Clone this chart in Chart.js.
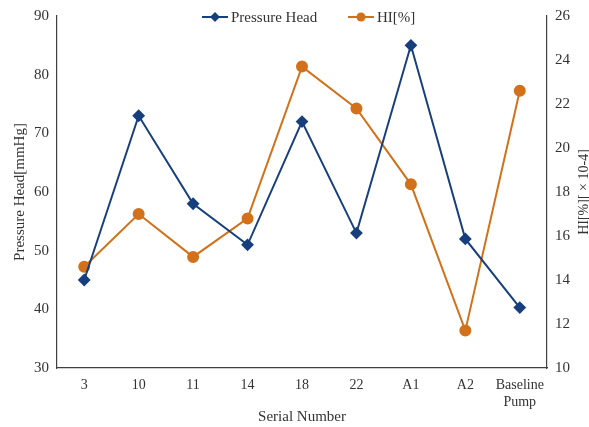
<!DOCTYPE html>
<html>
<head>
<meta charset="utf-8">
<script src="https://cdn.jsdelivr.net/npm/chart.js@4.4.0/dist/chart.umd.min.js"></script>
<style>
  html, body { margin: 0; padding: 0; background: #fff; }
  #wrap { width: 589px; height: 427px; }
</style>
</head>
<body>
<div id="wrap"><canvas id="chart" width="589" height="427"></canvas></div>
<script>
// data
const serials = ["3", "10", "11", "14", "18", "22", "A1", "A2", ["Baseline", "Pump"]];
const pressureHead = [45, 73, 58, 51, 72, 53, 85, 52, 40.3];
const hiValues = [14.6, 17.0, 15.05, 16.8, 23.7, 21.8, 18.35, 11.7, 22.6];

const navy = "#173f7e";
const orange = "#d2711a";
const serif = "'Liberation Serif', 'Times New Roman', serif";
const axisColor = "#404040";
const textColor = "#333";

// legend + rotated right title drawn by hand
const extras = {
  id: "extras",
  afterDraw(c) {
    const ctx = c.ctx;
    ctx.save();
    const items = [
      { x: 202, ds: c.data.datasets[0] },
      { x: 348, ds: c.data.datasets[1] }
    ];
    const y = 17;
    items.forEach(it => {
      ctx.strokeStyle = it.ds.borderColor;
      ctx.lineWidth = 2;
      ctx.beginPath();
      ctx.moveTo(it.x, y);
      ctx.lineTo(it.x + 26, y);
      ctx.stroke();
      ctx.fillStyle = it.ds.borderColor;
      ctx.beginPath();
      if (it.ds.pointStyle === "rectRot") {
        ctx.moveTo(it.x + 13, y - 5);
        ctx.lineTo(it.x + 18, y);
        ctx.lineTo(it.x + 13, y + 5);
        ctx.lineTo(it.x + 8, y);
      } else {
        ctx.arc(it.x + 13, y, 4.5, 0, Math.PI * 2);
      }
      ctx.fill();
      ctx.fillStyle = textColor;
      ctx.font = "15px " + serif;
      ctx.textBaseline = "middle";
      ctx.textAlign = "left";
      ctx.fillText(it.ds.label, it.x + 29, y + 1);
    });

    // right axis title
    ctx.translate(584, 192);
    ctx.rotate(-Math.PI / 2);
    ctx.font = "14px " + serif;
    ctx.textAlign = "center";
    ctx.textBaseline = "middle";
    ctx.fillStyle = textColor;
    ctx.fillText("HI[%][ × 10-4]", 0, 0);
    ctx.restore();
  }
};

new Chart(document.getElementById("chart"), {
  type: "line",
  data: {
    labels: serials,
    datasets: [
      {
        label: "Pressure Head",
        data: pressureHead,
        yAxisID: "y",
        borderColor: navy,
        backgroundColor: navy,
        borderWidth: 2,
        pointStyle: "rectRot",
        pointRadius: 5,
        pointHoverRadius: 5,
        tension: 0
      },
      {
        label: "HI[%]",
        data: hiValues,
        yAxisID: "y1",
        borderColor: orange,
        backgroundColor: orange,
        borderWidth: 2,
        pointStyle: "circle",
        pointRadius: 5,
        pointHoverRadius: 5,
        tension: 0
      }
    ]
  },
  options: {
    responsive: false,
    animation: false,
    layout: { padding: { top: 16, left: 0, right: 0, bottom: 0 } },
    plugins: {
      legend: { display: false },
      tooltip: { enabled: false }
    },
    scales: {
      x: {
        offset: true,
        grid: { display: false, drawTicks: true, tickLength: 5, color: axisColor },
        border: { display: true, color: axisColor, width: 1.2 },
        ticks: { color: textColor, font: { family: serif, size: 14 }, padding: 4, maxRotation: 0, autoSkip: false },
        title: { display: true, text: "Serial Number", color: textColor, font: { family: serif, size: 15 }, padding: { top: 0, bottom: 1 } },
        afterFit(s) { s.height = 59; }
      },
      y: {
        position: "left",
        min: 30,
        max: 90,
        grid: { display: false, drawOnChartArea: false, drawTicks: true, tickLength: 5, color: axisColor },
        border: { display: true, color: axisColor, width: 1.2 },
        ticks: { stepSize: 10, color: textColor, font: { family: serif, size: 15 }, padding: 3 },
        title: { display: true, text: "Pressure Head[mmHg]", color: textColor, font: { family: serif, size: 15 }, padding: { top: 11, bottom: 0 } },
        afterFit(s) { s.width = 57; }
      },
      y1: {
        position: "right",
        min: 10,
        max: 26,
        grid: { display: false, drawOnChartArea: false, drawTicks: true, tickLength: 5, color: axisColor },
        border: { display: true, color: axisColor, width: 1.2 },
        ticks: { stepSize: 2, color: textColor, font: { family: serif, size: 15 }, padding: 3 },
        afterFit(s) { s.width = 42; }
      }
    }
  },
  plugins: [extras]
});
</script>
</body>
</html>
